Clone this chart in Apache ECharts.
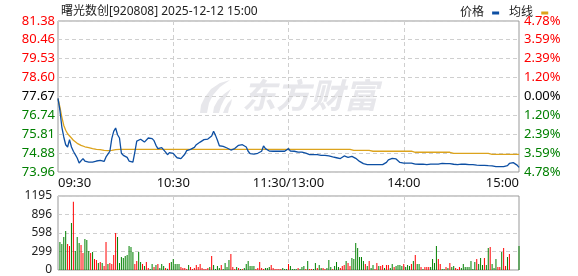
<!DOCTYPE html>
<html><head><meta charset="utf-8">
<script src="https://cdn.jsdelivr.net/npm/echarts@6/dist/echarts.min.js"></script>
<style>html,body{margin:0;padding:0;background:#fff;}#c{width:578px;height:276px;}</style>
</head><body><div id="c"></div>
<script>
const stockTitle = '曙光数创[920808] 2025-12-12 15:00';
const seriesNames = ['价格', '均线'];
const prevClose = 77.67;
const priceMin = 73.96, priceMax = 81.38;
const priceTickLabels = ['73.96','74.88','75.81','76.74','77.67','78.60','79.53','80.46','81.38'];
const pctTickLabels = ['4.78%','3.59%','2.39%','1.20%','0.00%','1.20%','2.39%','3.59%','4.78%'];
const volMax = 1195;
const volTickLabels = ['0','299','598','896','1195'];
const timeTickIndex = [0, 60, 120, 180, 240];
const timeTickLabels = ['09:30','10:30','11:30/13:00','14:00','15:00'];

const price = [
77.58,76.99,76.17,75.68,75.30,75.19,75.55,75.19,74.98,74.81,
74.65,74.40,74.42,74.62,74.50,74.45,74.45,74.40,74.45,74.42,
74.50,74.50,74.53,74.45,74.48,74.70,74.84,74.98,75.60,75.96,
76.12,75.79,75.63,74.88,74.78,74.75,74.68,74.50,74.45,74.45,
74.94,75.48,75.43,75.57,75.65,75.43,75.35,75.63,75.66,75.60,
75.50,75.27,75.11,75.14,75.16,75.07,74.94,74.81,74.91,74.96,
74.88,74.76,74.66,74.62,74.62,74.70,74.83,75.01,75.07,75.07,
75.12,75.17,75.30,75.38,75.43,75.52,75.55,75.57,75.58,75.60,
75.73,75.96,75.76,75.52,75.25,75.22,75.22,75.19,75.14,75.09,
75.04,75.01,75.11,75.20,75.27,75.30,75.30,75.28,75.19,74.98,
74.86,74.84,74.84,74.86,74.88,74.88,74.98,75.24,75.11,75.07,
74.99,74.98,74.98,74.98,74.98,74.98,74.98,74.98,74.98,75.02,
75.11,74.99,74.98,74.98,74.98,74.94,74.94,74.94,74.93,74.89,
74.84,74.81,74.81,74.81,74.81,74.81,74.79,74.78,74.78,74.78,
74.76,74.75,74.71,74.70,74.70,74.66,74.62,74.62,74.68,74.75,
74.68,74.68,74.70,74.73,74.66,74.63,74.55,74.48,74.40,74.37,
74.32,74.32,74.32,74.32,74.32,74.32,74.32,74.32,74.32,74.32,
74.35,74.43,74.56,74.63,74.63,74.62,74.60,74.55,74.43,74.40,
74.40,74.40,74.40,74.40,74.40,74.37,74.35,74.32,74.34,74.37,
74.35,74.32,74.32,74.35,74.35,74.34,74.35,74.35,74.35,74.35,
74.38,74.40,74.37,74.32,74.37,74.35,74.34,74.32,74.32,74.35,
74.35,74.35,74.34,74.32,74.32,74.32,74.32,74.32,74.30,74.30,
74.29,74.29,74.29,74.27,74.27,74.26,74.26,74.26,74.22,74.22,
74.22,74.26,74.22,74.22,74.27,74.38,74.42,74.42,74.38,74.30,
74.19];

const avgPrice = [
77.56,77.15,76.66,76.25,76.01,75.84,75.76,75.63,75.52,75.43,
75.37,75.32,75.27,75.24,75.20,75.19,75.16,75.14,75.11,75.09,
75.07,75.07,75.06,75.04,75.02,75.01,75.01,75.01,75.02,75.04,
75.06,75.07,75.07,75.07,75.07,75.07,75.07,75.07,75.07,75.07,
75.07,75.07,75.07,75.07,75.07,75.07,75.07,75.07,75.07,75.07,
75.07,75.07,75.07,75.07,75.07,75.07,75.07,75.07,75.07,75.07,
75.07,75.07,75.07,75.07,75.07,75.07,75.07,75.07,75.07,75.07,
75.07,75.07,75.07,75.07,75.07,75.07,75.07,75.07,75.07,75.07,
75.07,75.07,75.07,75.07,75.07,75.07,75.07,75.07,75.07,75.07,
75.07,75.07,75.07,75.07,75.07,75.07,75.07,75.07,75.07,75.07,
75.07,75.07,75.07,75.07,75.07,75.07,75.07,75.07,75.07,75.07,
75.07,75.07,75.07,75.07,75.07,75.07,75.07,75.07,75.07,75.07,
75.07,75.07,75.07,75.07,75.07,75.07,75.07,75.07,75.07,75.07,
75.07,75.07,75.07,75.07,75.07,75.07,75.07,75.07,75.07,75.07,
75.07,75.07,75.07,75.07,75.07,75.07,75.07,75.07,75.07,75.07,
75.07,75.07,75.07,75.07,75.02,75.02,75.02,75.02,75.02,75.02,
75.02,75.02,75.02,75.02,74.98,74.98,74.98,74.98,74.98,74.98,
74.98,74.98,74.98,74.98,74.98,74.98,74.98,74.98,74.98,74.98,
74.98,74.98,74.98,74.98,74.98,74.98,74.93,74.93,74.93,74.93,
74.93,74.93,74.93,74.93,74.93,74.93,74.93,74.93,74.93,74.93,
74.93,74.93,74.93,74.93,74.93,74.93,74.88,74.88,74.88,74.88,
74.88,74.88,74.88,74.88,74.88,74.88,74.88,74.88,74.88,74.88,
74.88,74.88,74.88,74.88,74.88,74.88,74.83,74.83,74.83,74.83,
74.83,74.83,74.83,74.83,74.83,74.83,74.83,74.83,74.83,74.83,
74.83];

const volume = [
0,452,420,533,630,420,388,759,1103,307,
533,436,404,275,501,484,307,275,291,178,
161,113,129,113,65,452,97,113,97,242,
598,533,113,210,194,226,242,388,371,291,
97,145,291,129,97,65,129,32,16,97,
48,81,97,32,97,65,32,22,113,129,
178,97,97,97,48,32,32,16,81,48,
16,32,81,48,97,32,16,16,32,48,
226,81,16,65,32,81,16,113,48,161,
258,48,16,48,32,16,16,32,97,145,
65,65,65,16,32,129,32,16,32,32,
48,81,32,16,16,16,16,32,16,16,
97,65,16,16,16,32,16,48,65,16,
145,16,16,16,113,32,81,32,32,16,
32,161,48,16,65,129,48,32,65,81,
145,113,65,194,178,436,355,210,210,145,
97,65,145,32,81,16,113,65,65,81,
32,81,81,32,97,48,65,81,81,65,
97,48,81,65,97,145,242,97,97,48,
16,48,48,48,48,178,113,388,178,97,
16,16,48,32,113,48,65,32,16,48,
32,97,48,48,48,145,16,129,178,97,
194,81,194,81,355,371,97,32,178,48,
48,291,355,65,210,258,0,0,0,0,
388];

// 1 = up (red), -1 = down (green)
const volDir = [
1,-1,-1,-1,-1,1,1,-1,1,-1,
-1,-1,1,1,-1,-1,-1,1,-1,1,
1,-1,1,-1,1,1,-1,1,1,1,
1,-1,-1,-1,-1,-1,-1,-1,-1,-1,
1,1,-1,-1,1,-1,1,1,-1,-1,
1,-1,1,-1,-1,-1,1,-1,1,-1,
-1,-1,-1,-1,1,1,1,1,-1,1,
1,1,1,1,1,1,1,1,1,-1,
1,-1,-1,-1,-1,1,-1,-1,-1,-1,
1,1,1,-1,1,-1,1,-1,-1,-1,
-1,-1,-1,1,1,1,1,1,-1,-1,
-1,1,1,1,1,1,1,-1,-1,-1,
1,-1,-1,-1,-1,1,-1,-1,-1,1,
-1,1,1,-1,-1,1,-1,-1,1,1,
-1,-1,-1,1,-1,-1,-1,1,1,1,
-1,1,1,-1,-1,-1,-1,-1,-1,-1,
1,-1,1,-1,-1,1,1,-1,1,1,
-1,1,1,-1,-1,1,-1,-1,-1,-1,
1,-1,-1,-1,1,-1,1,-1,-1,1,
-1,1,1,1,-1,-1,-1,-1,1,1,
-1,-1,1,-1,1,-1,-1,1,1,1,
-1,-1,-1,-1,-1,-1,-1,-1,1,-1,
-1,-1,1,-1,-1,1,-1,-1,-1,1,
1,-1,1,1,-1,1,1,1,1,1,
-1];

// time categories (241 minutes)
function hm(t){ const h = Math.floor(t/60), m = t%60; return (h<10?'0':'')+h+':'+(m<10?'0':'')+m; }
const times = [];
for (let m = 0; m <= 120; m++) times.push(hm(9*60+30+m));
for (let m = 1; m <= 120; m++) times.push(hm(13*60+m));

const UP = '#ff0000', DOWN = '#008000', FLAT = '#000000';
const FONT = "'Noto Sans', 'Noto Sans CJK SC', sans-serif";
const priceTickValues = priceTickLabels.map(Number);
function tickIdx(v){ let best = 0, bd = 1e9; priceTickValues.forEach((t,i)=>{ const d = Math.abs(t-v); if (d<bd){bd=d;best=i;} }); return best; }
function labelColor(v){ const i = tickIdx(v); return i > 4 ? UP : (i < 4 ? DOWN : FLAT); }

const dashed = { type: [4, 3], color: '#cfcfcf', width: 1 };
const vSplit = (idx) => idx === 60 || idx === 120 || idx === 180;
const WM = '#e7e7eb';

const chart = echarts.init(document.getElementById('c'), null, { renderer: 'canvas' });
chart.setOption({
  animation: false,
  backgroundColor: '#fff',
  title: { text: stockTitle, left: 56, top: 1, textStyle: { fontSize: 12, fontWeight: 'normal', color: '#222', fontFamily: FONT } },
  legend: {
    data: seriesNames, left: 455, top: 2, align: 'right', icon: 'rect', itemWidth: 7, itemHeight: 3, itemGap: 10,
    selectedMode: false, formatter: (n) => n + ' ',
    textStyle: { fontSize: 12, color: '#222', fontFamily: FONT }
  },
  graphic: [
    { type: 'text', x: 242, y: 78, z: -10, silent: true,
      style: { text: '东方财富', fontSize: 34, fontWeight: 'bold', fontStyle: 'italic', fontFamily: "'Noto Sans CJK SC'", fill: WM } },
    { type: 'polygon', z: -10, silent: true,
      shape: { points: [[230,80],[220,83],[211,89],[205,97],[201,105],[200,113],[207,113],[209,103],[213,95],[220,87]] }, style: { fill: WM } },
    { type: 'polygon', z: -10, silent: true,
      shape: { points: [[231,89],[224,94],[218,100],[214,107],[213,113],[219,113],[221,106],[224,100],[228,94]] }, style: { fill: WM } },
    { type: 'polygon', z: -10, silent: true,
      shape: { points: [[232,99],[228,103],[225,108],[223,113],[228,113],[229,108],[231,104]] }, style: { fill: WM } }
  ],
  grid: [
    { left: 58, right: 59, top: 21, height: 151, show: true, borderColor: '#999', borderWidth: 1 },
    { left: 58, right: 59, top: 196, height: 74, show: true, borderColor: '#999', borderWidth: 1 }
  ],
  xAxis: [
    { type: 'category', gridIndex: 0, data: times, boundaryGap: false,
      axisLine: { show: false }, axisTick: { show: false },
      axisLabel: { interval: (idx) => timeTickIndex.indexOf(idx) >= 0,
        formatter: (v, idx) => { const k = timeTickIndex.indexOf(idx); return k >= 0 ? timeTickLabels[k] : ''; },
        alignMinLabel: 'left', alignMaxLabel: 'right', showMinLabel: true, showMaxLabel: true,
        fontSize: 13, color: '#111', fontFamily: FONT, margin: 5 },
      splitLine: { show: true, interval: vSplit, lineStyle: dashed } },
    { type: 'category', gridIndex: 1, data: times, boundaryGap: false,
      axisLine: { show: false }, axisTick: { show: false }, axisLabel: { show: false },
      splitLine: { show: true, interval: vSplit, lineStyle: dashed } }
  ],
  yAxis: [
    { type: 'value', gridIndex: 0, min: priceMin, max: priceMax, position: 'left',
      axisLine: { show: false }, axisTick: { show: false, customValues: priceTickValues },
      axisLabel: { customValues: priceTickValues, formatter: (v) => priceTickLabels[tickIdx(v)],
        color: labelColor, fontSize: 13, fontFamily: FONT, margin: 3 },
      splitLine: { show: true, lineStyle: dashed } },
    { type: 'value', gridIndex: 0, min: priceMin, max: priceMax, position: 'right',
      axisLine: { show: false }, axisTick: { show: false, customValues: priceTickValues },
      axisLabel: { customValues: priceTickValues, formatter: (v) => pctTickLabels[tickIdx(v)],
        color: labelColor, fontSize: 13, fontFamily: FONT, margin: 5 },
      splitLine: { show: false } },
    { type: 'value', gridIndex: 1, min: 0, max: volMax, interval: volMax / 4,
      axisLine: { show: false }, axisTick: { show: false },
      axisLabel: { formatter: (v) => volTickLabels[Math.round(v / (volMax / 4))], fontSize: 12, color: '#222', fontFamily: FONT, margin: 6 },
      splitLine: { show: true, lineStyle: dashed } }
  ],
  series: [
    { name: '均线', type: 'line', xAxisIndex: 0, yAxisIndex: 0, data: avgPrice, showSymbol: false, symbol: 'none',
      color: '#dca31c', lineStyle: { width: 1.3, color: '#dca31c' } },
    { name: '价格', type: 'line', xAxisIndex: 0, yAxisIndex: 0, data: price, showSymbol: false, symbol: 'none',
      color: '#0d4fa3', lineStyle: { width: 1.3, color: '#0d4fa3' } },
    { name: '成交量', type: 'bar', xAxisIndex: 1, yAxisIndex: 2, barWidth: 1,
      data: volume.map((v, i) => ({ value: v, itemStyle: { color: volDir[i] > 0 ? UP : DOWN } })) }
  ]
});
</script>
</body></html>
